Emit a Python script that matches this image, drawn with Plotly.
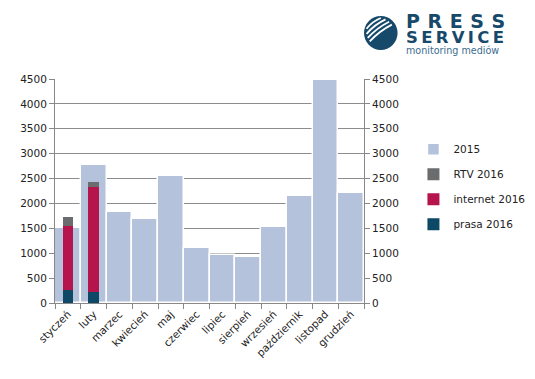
import math
import plotly.graph_objects as go

months = ["styczeń", "luty", "marzec", "kwiecień", "maj", "czerwiec", "lipiec",
          "sierpień", "wrzesień", "październik", "listopad", "grudzień"]
y2015 = [1500, 2770, 1830, 1690, 2550, 1100, 970, 930, 1530, 2150, 4480, 2200]
prasa2016 = [270, 230]
internet2016 = [1280, 2100]
rtv2016 = [170, 110]
months2016 = months[:2]
y_ticks = [0, 500, 1000, 1500, 2000, 2500, 3000, 3500, 4000, 4500]

c2015 = "#B4C3DB"
crtv = "#6B6C6E"
cint = "#B5154C"
cpr = "#0D4866"
logo_blue = "#17496A"

base_int = [p for p in prasa2016]
base_rtv = [p + i for p, i in zip(prasa2016, internet2016)]

W, H = 535, 379
ML, MR, MT, MB = 45, 177, 71, 84
PW = W - ML - MR
PH = H - MT - MB


def px(fx):
    return (fx - ML) / PW


def py(fy):
    return (H - MB - fy) / PH


fig = go.Figure()
fig.add_trace(go.Bar(x=months, y=y2015, name="2015", marker=dict(color=c2015, line=dict(color="white", width=1.5)),
                     width=1.0, legendrank=1, legendgroup="a"))
fig.add_trace(go.Bar(x=months2016, y=prasa2016, name="prasa 2016", marker=dict(color=cpr, line=dict(width=0)),
                     width=0.4, legendrank=4, legendgroup="d"))
fig.add_trace(go.Bar(x=months2016, y=internet2016, base=base_int, name="internet 2016",
                     marker=dict(color=cint, line=dict(width=0)), width=0.4, legendrank=3, legendgroup="c"))
fig.add_trace(go.Bar(x=months2016, y=rtv2016, base=base_rtv, name="RTV 2016",
                     marker=dict(color=crtv, line=dict(width=0)), width=0.4, legendrank=2, legendgroup="b"))
fig.add_trace(go.Scatter(x=[months[0]], y=[0], yaxis="y2", mode="markers", marker=dict(opacity=0),
                         showlegend=False, hoverinfo="skip"))

font = dict(family="DejaVu Sans", size=10.5, color="#222222")
fig.update_layout(
    width=W, height=H,
    margin=dict(l=ML, r=MR, t=MT, b=MB),
    paper_bgcolor="white", plot_bgcolor="white",
    barmode="overlay", bargap=0,
    font=font,
    showlegend=True,
    legend=dict(x=1.16, y=0.751, xanchor="left", yanchor="top",
                font=dict(family="DejaVu Sans", size=10.5, color="#222222"),
                tracegroupgap=6, itemwidth=30, bgcolor="rgba(0,0,0,0)"),
    xaxis=dict(type="category", categoryorder="array", categoryarray=months, tickangle=-45,
               ticks="outside", ticklen=5, tickcolor="#888888", showline=True, linecolor="#888888",
               tickson="boundaries", showgrid=False, range=[-0.5, 11.5], tickfont=font),
    yaxis=dict(range=[0, 4500], tickvals=y_ticks, showgrid=True, gridcolor="#8C8C8C", gridwidth=1,
               ticks="outside", ticklen=5, tickcolor="#888888", showline=True, linecolor="#888888",
               zeroline=False, tickfont=font),
    yaxis2=dict(range=[0, 4500], tickvals=y_ticks, overlaying="y", side="right", showgrid=False,
                ticks="outside", ticklen=5, tickcolor="#888888", showline=True, linecolor="#888888",
                zeroline=False, tickfont=font),
)

# logo circle
cx, cy, r = 375, 25, 17
fig.add_shape(type="circle", xref="paper", yref="paper",
              x0=px(cx - r), x1=px(cx + r), y0=py(cy + r), y1=py(cy - r),
              fillcolor=logo_blue, line=dict(width=0), layer="above")
d = (0.8, -0.6)
n = (0.6, 0.8)
for o in (-12, -8, -4, 0):
    half = math.sqrt(r * r - o * o) - 3
    mx, my = cx + o * n[0], cy + o * n[1]
    x0, y0 = mx - half * d[0], my - half * d[1]
    x1, y1 = mx + half * d[0], my + half * d[1]
    qx, qy = mx - 2.5 * n[0], my - 2.5 * n[1]
    path = f"M {px(x0)},{py(y0)} Q {px(qx)},{py(qy)} {px(x1)},{py(y1)}"
    fig.add_shape(type="path", xref="paper", yref="paper", path=path,
                  line=dict(color="white", width=1.8), layer="above")

ts = "\u2009"
fig.add_annotation(xref="paper", yref="paper", x=px(399), y=py(12.5), xanchor="left", yanchor="middle",
                   text="<b>" + (ts * 2).join("PRESS") + "</b>", showarrow=False,
                   font=dict(family="DejaVu Sans", size=19, color=logo_blue))
fig.add_annotation(xref="paper", yref="paper", x=px(399), y=py(29.5), xanchor="left", yanchor="middle",
                   text="<b>" + ts.join("SERVICE") + "</b>", showarrow=False,
                   font=dict(family="DejaVu Sans", size=16.5, color=logo_blue))
fig.add_annotation(xref="paper", yref="paper", x=px(399), y=py(42.5), xanchor="left", yanchor="middle",
                   text="monitoring mediów", showarrow=False,
                   font=dict(family="DejaVu Sans", size=9.6, color="#3B6D8F"))

fig.write_html("out.html")
